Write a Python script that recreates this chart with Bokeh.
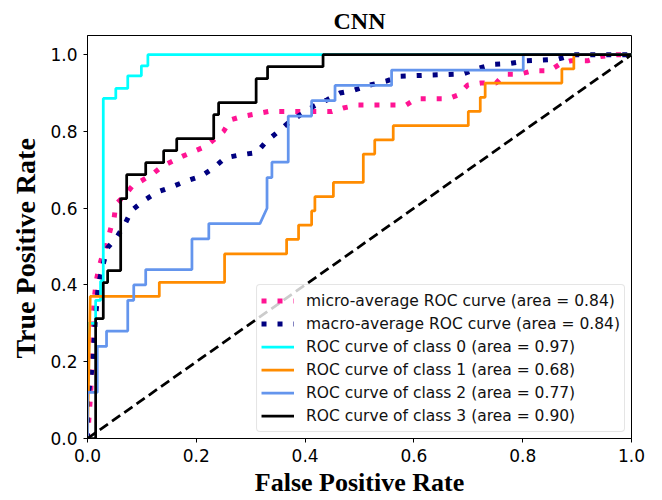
from bokeh.plotting import figure
from bokeh.models import Range1d, FixedTicker, PrintfTickFormatter, Legend, LegendItem, Title
from bokeh.embed import file_html
from bokeh.resources import INLINE

title_text = "CNN"
x_label = "False Positive Rate"
y_label = "True Positive Rate"
tick_values = [0.0, 0.2, 0.4, 0.6, 0.8, 1.0]

# micro-average ROC (area = 0.84)
micro_fpr = [0.0, 0.005, 0.009, 0.010, 0.012, 0.016, 0.021, 0.027, 0.035, 0.043, 0.049, 0.052,
             0.067, 0.082, 0.119, 0.137, 0.174, 0.217, 0.232, 0.250, 0.263, 0.284, 0.333, 0.449,
             0.470, 0.498, 0.586, 0.604, 0.662, 0.681, 0.699, 0.723, 0.751, 0.766, 0.794, 0.818,
             0.849, 0.870, 0.888, 0.919, 0.943, 0.974, 1.0]
micro_tpr = [0.0, 0.10, 0.20, 0.298, 0.358, 0.410, 0.445, 0.475, 0.506, 0.549, 0.575, 0.610,
             0.631, 0.657, 0.688, 0.709, 0.735, 0.761, 0.778, 0.800, 0.830, 0.839, 0.852, 0.852,
             0.861, 0.869, 0.869, 0.885, 0.885, 0.895, 0.921, 0.926, 0.926, 0.949, 0.949, 0.958,
             0.958, 0.977, 0.984, 0.984, 0.995, 1.0, 1.0]

# macro-average ROC (area = 0.84)
macro_fpr = [0.0, 0.0, 0.010, 0.014, 0.020, 0.028, 0.037, 0.055, 0.069, 0.081, 0.104, 0.128,
             0.154, 0.180, 0.208, 0.232, 0.253, 0.281, 0.311, 0.330, 0.351, 0.369, 0.391, 0.415,
             0.440, 0.464, 0.491, 0.519, 0.549, 0.574, 0.690, 0.720, 0.746, 0.775, 0.806, 0.833,
             0.864, 0.894, 1.0]
macro_tpr = [0.0, 0.10, 0.20, 0.30, 0.40, 0.45, 0.497, 0.527, 0.559, 0.594, 0.620, 0.642,
             0.655, 0.670, 0.683, 0.705, 0.731, 0.739, 0.745, 0.776, 0.800, 0.822, 0.843, 0.865,
             0.882, 0.900, 0.908, 0.921, 0.931, 0.944, 0.950, 0.965, 0.975, 0.977, 0.984, 0.986,
             0.988, 1.0, 1.0]

# class 0 (area = 0.97)
fpr0 = [0.0, 0.0, 0.015, 0.015, 0.024, 0.024, 0.029, 0.029, 0.052, 0.052, 0.074, 0.074,
        0.099, 0.099, 0.111, 0.111, 1.0]
tpr0 = [0.0, 0.30, 0.30, 0.36, 0.36, 0.41, 0.41, 0.886, 0.886, 0.912, 0.912, 0.945,
        0.945, 0.971, 0.971, 1.0, 1.0]

# class 1 (area = 0.68)
fpr1 = [0.0, 0.005, 0.132, 0.132, 0.252, 0.252, 0.366, 0.366, 0.388, 0.388, 0.412, 0.412,
        0.418, 0.418, 0.452, 0.452, 0.507, 0.507, 0.528, 0.528, 0.562, 0.562, 0.700, 0.700,
        0.722, 0.722, 0.731, 0.731, 0.872, 0.872, 0.894, 0.894, 1.0]
tpr1 = [0.0, 0.370, 0.370, 0.407, 0.407, 0.481, 0.481, 0.519, 0.519, 0.556, 0.556, 0.593,
        0.593, 0.630, 0.630, 0.667, 0.667, 0.741, 0.741, 0.778, 0.778, 0.815, 0.815, 0.852,
        0.852, 0.889, 0.889, 0.926, 0.926, 0.963, 0.963, 1.0, 1.0]

# class 2 (area = 0.77)
fpr2 = [0.0, 0.0, 0.018, 0.018, 0.035, 0.035, 0.074, 0.074, 0.085, 0.085, 0.107, 0.107,
        0.192, 0.192, 0.223, 0.223, 0.317, 0.330, 0.330, 0.339, 0.339, 0.369, 0.369, 0.412,
        0.412, 0.455, 0.455, 0.559, 0.559, 0.801, 0.801, 1.0]
tpr2 = [0.0, 0.12, 0.12, 0.24, 0.24, 0.28, 0.28, 0.36, 0.36, 0.40, 0.40, 0.44,
        0.44, 0.52, 0.52, 0.56, 0.56, 0.60, 0.68, 0.68, 0.72, 0.72, 0.84, 0.84,
        0.88, 0.88, 0.92, 0.92, 0.96, 0.96, 1.0, 1.0]

# class 3 (area = 0.90)
fpr3 = [0.0, 0.015, 0.015, 0.029, 0.029, 0.037, 0.037, 0.061, 0.061, 0.072, 0.072, 0.107,
        0.107, 0.140, 0.140, 0.164, 0.164, 0.232, 0.232, 0.241, 0.241, 0.310, 0.310, 0.331,
        0.331, 0.433, 0.433, 1.0]
tpr3 = [0.0, 0.0, 0.3125, 0.3125, 0.40625, 0.40625, 0.4375, 0.4375, 0.625, 0.625, 0.6875, 0.6875,
        0.71875, 0.71875, 0.75, 0.75, 0.78125, 0.78125, 0.84375, 0.84375, 0.875, 0.875, 0.9375, 0.9375,
        0.96875, 0.96875, 1.0, 1.0]

chance_x = [0.0, 1.0]
chance_y = [0.0, 1.0]

labels = [
    "micro-average ROC curve (area = 0.84)",
    "macro-average ROC curve (area = 0.84)",
    "ROC curve of class 0 (area = 0.97)",
    "ROC curve of class 1 (area = 0.68)",
    "ROC curve of class 2 (area = 0.77)",
    "ROC curve of class 3 (area = 0.90)",
]

p = figure(width=662, height=500, output_backend="svg", toolbar_location=None,
           x_range=Range1d(0, 1.0), y_range=Range1d(0, 1.05),
           min_border_left=87, min_border_right=31, min_border_top=35, min_border_bottom=62)
p.background_fill_color = "white"
p.border_fill_color = "white"
p.outline_line_color = "black"
p.outline_line_width = 1
p.xgrid.visible = False
p.ygrid.visible = False

p.title.text = title_text
p.title.align = "center"
p.title.text_font = "Liberation Serif"
p.title.text_font_style = "bold"
p.title.text_font_size = "24px"
p.title.text_color = "black"
p.title.standoff = 4

for ax, lso in ((p.xaxis[0], 6), (p.yaxis[0], 6)):
    ax.ticker = FixedTicker(ticks=tick_values)
    ax.formatter = PrintfTickFormatter(format="%.1f")
    ax.major_label_text_font = "DejaVu Sans"
    ax.major_label_text_font_size = "17px"
    ax.major_label_text_color = "black"
    ax.major_label_standoff = lso
    ax.major_tick_out = 4
    ax.major_tick_in = 0
    ax.minor_tick_out = 0
    ax.minor_tick_in = 0
    ax.axis_line_color = "black"
    ax.major_tick_line_color = "black"

xa = p.xaxis[0]
xa.axis_label = x_label
xa.axis_label_text_font = "Liberation Serif"
xa.axis_label_text_font_style = "bold"
xa.axis_label_text_font_size = "26px"
xa.axis_label_text_color = "black"
xa.axis_label_standoff = 3

ytitle = Title(text=y_label, align="left", offset=80, standoff=13,
               text_font="Liberation Serif", text_font_style="bold",
               text_font_size="28px", text_color="black")
p.add_layout(ytitle, "left")

r_micro = p.line(micro_fpr, micro_tpr, line_color="#FF1493", line_width=5, line_dash="5 11")
r_macro = p.line(macro_fpr, macro_tpr, line_color="#000080", line_width=5, line_dash="5 11")
r0 = p.line(fpr0, tpr0, line_color="#00FFFF", line_width=2.75)
r1 = p.line(fpr1, tpr1, line_color="#FF8C00", line_width=2.75)
r2 = p.line(fpr2, tpr2, line_color="#6495ED", line_width=2.75)
r3 = p.line(fpr3, tpr3, line_color="black", line_width=2.75)
p.line(chance_x, chance_y, line_color="black", line_width=2.75, line_dash="10 5")

items = [LegendItem(label=l, renderers=[r]) for l, r in zip(labels, [r_micro, r_macro, r0, r1, r2, r3])]
legend = Legend(items=items, location="bottom_right")
legend.label_text_font = "DejaVu Sans"
legend.label_text_font_size = "15.5px"
legend.label_text_color = "#111111"
legend.glyph_width = 33
legend.glyph_height = 23
legend.label_height = 23
legend.spacing = 0
legend.padding = 4
legend.margin = 6
legend.label_standoff = 12
legend.border_line_color = "#cccccc"
legend.border_line_width = 1
legend.background_fill_color = "white"
legend.background_fill_alpha = 0.8
if "border_radius" in Legend.properties():
    legend.border_radius = 4
p.add_layout(legend)

open("out.html", "w").write(file_html(p, INLINE))
